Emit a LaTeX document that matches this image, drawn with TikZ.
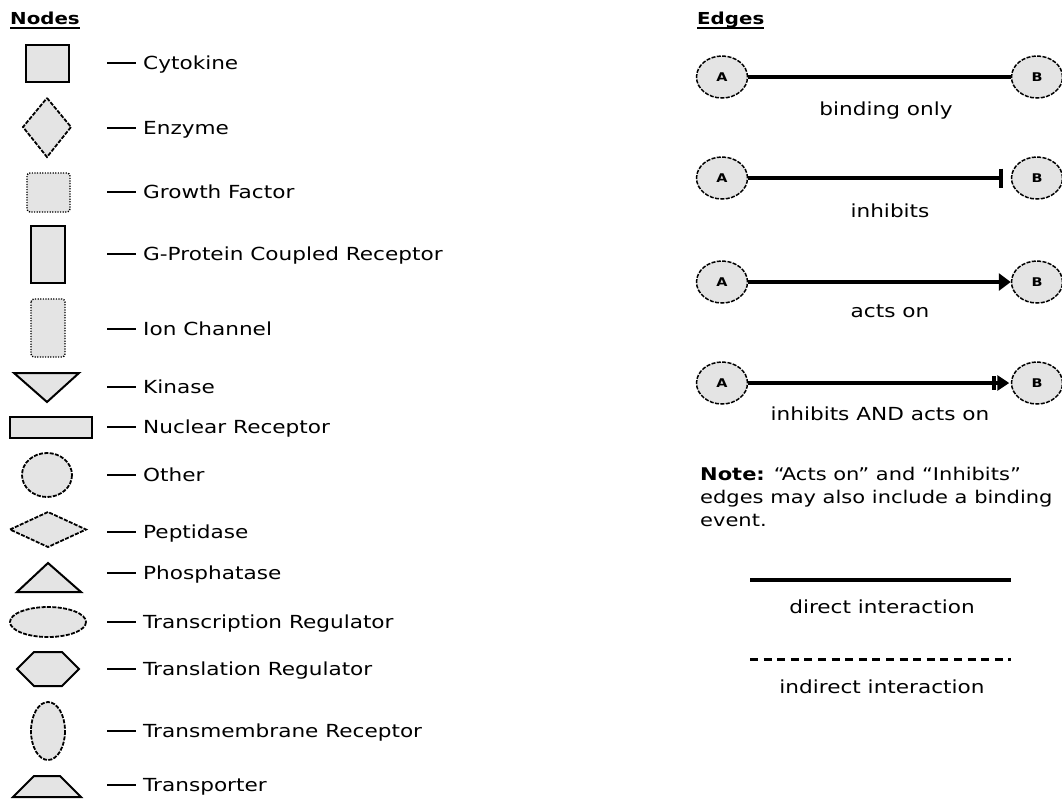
\documentclass[tikz,border=0pt]{standalone}
\usepackage{fontspec}
\setmainfont{DejaVu Sans}[FakeStretch=1.2]
\newfontfamily\heavy{DejaVu Sans Bold}[FakeStretch=1.2]
\usetikzlibrary{arrows.meta,shapes.geometric}
\definecolor{nodefill}{HTML}{E4E4E4}

\begin{document}
\begin{tikzpicture}[x=1pt,y=-1pt,
  glyph/.style={fill=nodefill,draw=black,line width=2pt,line join=miter},
  glyph dashed/.style={glyph,line width=1.8pt,dash pattern=on 4pt off 1.4pt},
  glyph dotted/.style={glyph,line width=1.4pt,dash pattern=on 1.2pt off 1.4pt,rounded corners=3pt},
  legend label/.style={anchor=base west,inner sep=0pt,font=\fontsize{18}{22}\selectfont},
  tick/.style={line width=1.6pt},
  title text/.style={anchor=base west,inner sep=0pt,font=\heavy\fontsize{16.5}{20}\selectfont},
  ab/.style={ellipse,draw,fill=nodefill,dash pattern=on 4pt off 1.4pt,line width=1.5pt,
    minimum width=51pt,minimum height=42pt,inner sep=0pt,font=\heavy\fontsize{12}{12}\selectfont},
  link/.style={line width=3.2pt},
  link text/.style={anchor=base,inner sep=0pt,font=\fontsize{18}{22}\selectfont},
  note text/.style={anchor=base west,inner sep=0pt,font=\fontsize{17.5}{22}\selectfont}
]
\useasboundingbox[fill=white] (0,0) rectangle (1062,801);

% ---------- node legend ----------
\node[title text] (tn) at (10,24) {Nodes};
\draw[line width=2pt] ([yshift=-3.5pt]tn.base west) -- ([yshift=-3.5pt]tn.base east);

\draw[glyph] (26,45) rectangle (69,82);
\draw[glyph dashed] (47,98) -- (71,127) -- (47,157) -- (23,127) -- cycle;
\draw[glyph dotted] (27,173) rectangle (70,212);
\draw[glyph] (31,226) rectangle (65,283);
\draw[glyph dotted] (31,299) rectangle (65,357);
\draw[glyph] (14,373) -- (79,373) -- (47,402) -- cycle;
\draw[glyph] (10,417) rectangle (92,438);
\draw[glyph dashed] (47,475) ellipse [x radius=25,y radius=22];
\draw[glyph dashed] (10,529.5) -- (48,512) -- (86,529.5) -- (48,547) -- cycle;
\draw[glyph] (17,592) -- (48,563) -- (81,592) -- cycle;
\draw[glyph dashed] (48,622) ellipse [x radius=38,y radius=15];
\draw[glyph] (17,669) -- (34,652) -- (62,652) -- (79,669) -- (62,686) -- (34,686) -- cycle;
\draw[glyph dashed] (48,731) ellipse [x radius=17,y radius=29];
\draw[glyph] (13,797) -- (34,776) -- (60,776) -- (81,797) -- cycle;

\foreach \n/\y/\t in {1/63/Cytokine, 2/128/Enzyme, 3/192/Growth Factor,
    4/254/G-Protein Coupled Receptor, 5/329/Ion Channel, 6/387/Kinase,
    7/427/Nuclear Receptor, 8/475/Other, 9/532/Peptidase, 10/573/Phosphatase,
    11/622/Transcription Regulator, 12/669/Translation Regulator,
    13/731/Transmembrane Receptor, 14/785/Transporter}{
  \coordinate (t\n) at (107,\y);
  \node[legend label] (l\n) at (143,\y+6.5) {\t};
  \draw[tick] (t\n) -- ([xshift=-7pt]t\n -| l\n.west);
}

% ---------- edge legend ----------
\node[title text] (te) at (697,24) {Edges};
\draw[line width=2pt] ([yshift=-3.5pt]te.base west) -- ([yshift=-3.5pt]te.base east);

\foreach \n/\y in {1/77, 2/178, 3/282, 4/383}{
  \node[ab] (a\n) at (722,\y) {A};
  \node[ab] (b\n) at (1037,\y) {B};
}
\draw[link] (a1) -- (b1);
\draw[link,shorten >=8pt,-{Bar[width=19pt,line width'=4pt]}] (a2) -- (b2);
\draw[link,-{Triangle[length=12pt,width=17pt]}] (a3) -- (b3);
\draw[link,-{Bar[width=14pt,line width'=4pt,sep=1.5pt] Triangle[length=12pt,width=15pt,sep=1.5pt]}] (a4) -- (b4);

\node[link text] (e1) at (886,115) {binding only};
\node[link text] (e2) at (890,217) {inhibits};
\node[link text] (e3) at (890,317) {acts on};
\node[link text] (e4) at (880,420) {inhibits AND acts on};

\node[note text] (n1) at (700,480) {{\heavy Note:} “Acts on” and “Inhibits”};
\node[note text] (n2) at (700,503) {edges may also include a binding};
\node[note text] (n3) at (700,526) {event.};

\coordinate (d1) at (750,580);
\coordinate (d2) at (1011,580);
\draw[line width=3.4pt] (d1) -- (d2);
\node[link text] (dl) at (882,613) {direct interaction};

\coordinate (i1) at (750,659);
\coordinate (i2) at (1011,659);
\draw[line width=3pt,dash pattern=on 8pt off 5.6pt] (i1) -- (i2);
\node[link text] (il) at (882,693) {indirect interaction};
\end{tikzpicture}
\end{document}
